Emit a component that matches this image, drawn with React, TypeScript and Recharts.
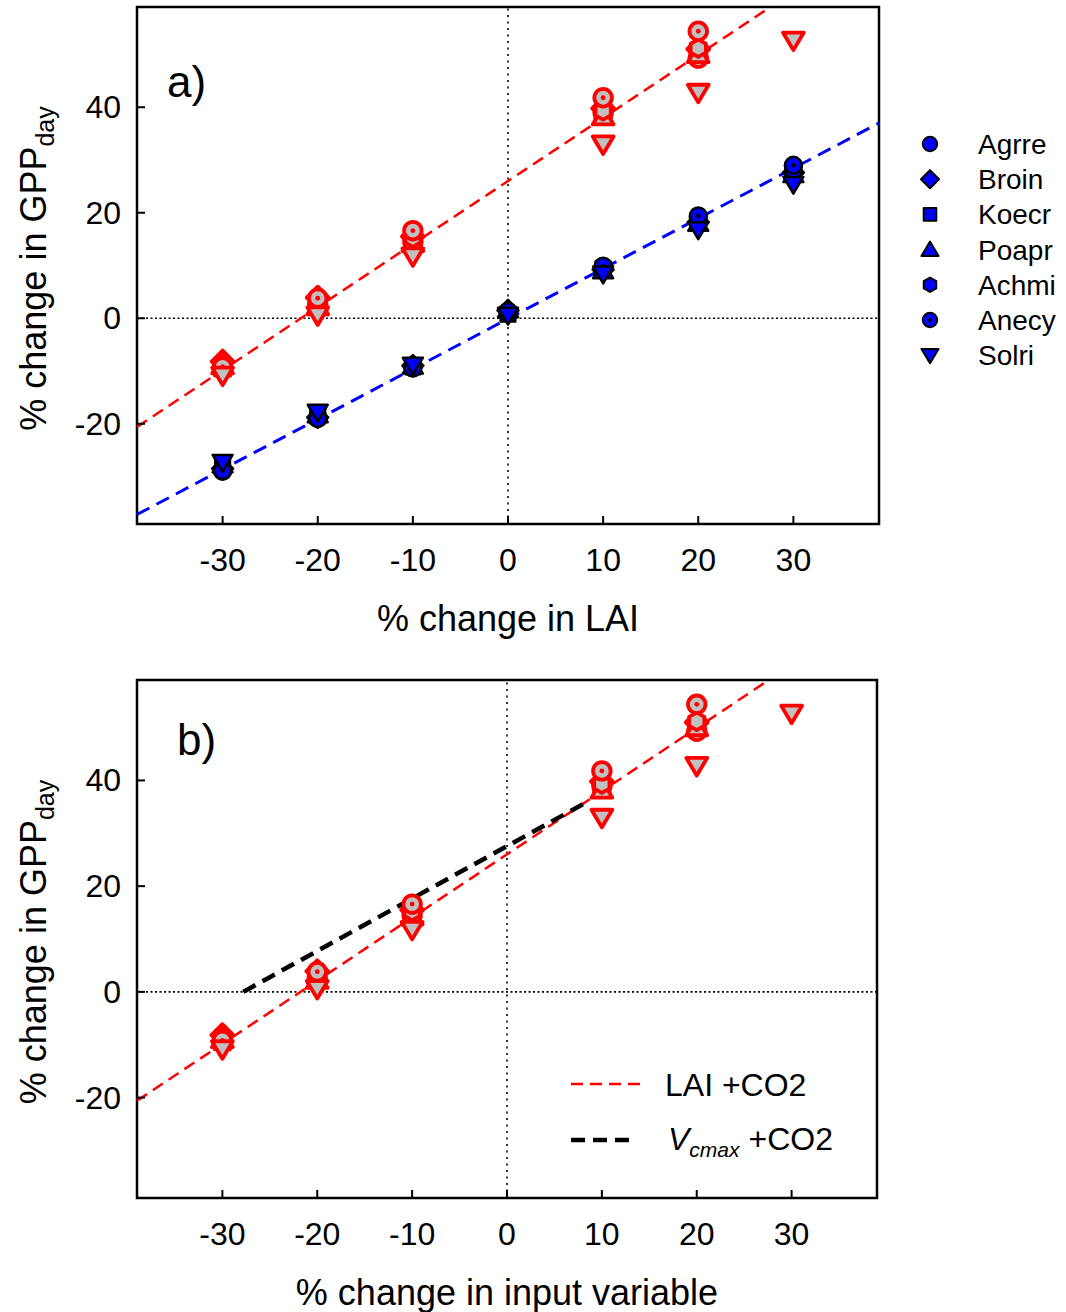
import React from 'react';
import { ScatterChart, Scatter, XAxis, YAxis, ReferenceLine, ReferenceArea } from 'recharts';

const FONT = '"Liberation Sans", Arial, Helvetica, sans-serif';

// x positions of the perturbation levels (% change)
const levels = [-30, -20, -10, 0, 10, 20, 30];

const speciesNames = ['Agrre', 'Broin', 'Koecr', 'Poapr', 'Achmi', 'Anecy', 'Solri'];
const speciesShapes = ['circle', 'diamond', 'square', 'triangleUp', 'hexagon', 'dotCircle', 'triangleDown'];

// % change in GPPday, LAI changed only (blue)
const laiAgrre = [-29.0, -19.0, -9.4, 1.2, 9.8, 19.2, 28.8];
const laiBroin = [-28.5, -18.8, -9.0, 1.5, 9.2, 18.2, 27.6];
const laiKoecr = [-28.2, -18.5, -9.2, 0.8, 9.4, 18.5, 27.8];
const laiPoapr = [-27.8, -18.3, -9.1, 1.6, 9.0, 18.0, 27.2];
const laiAchmi = [-28.6, -18.7, -9.3, 1.0, 9.5, 18.6, 27.9];
const laiAnecy = [-28.9, -19.0, -9.4, 1.3, 9.9, 19.4, 29.0];
const laiSolri = [-27.3, -17.8, -8.9, 0.6, 8.4, 16.8, 25.4];

// % change in GPPday, LAI changed + elevated CO2 (red)
const co2Agrre = [-9.6, 2.6, 14.5, null, 39.0, 49.3, null];
const co2Broin = [-8.2, 3.9, 15.5, null, 39.8, 51.0, null];
const co2Koecr = [-9.4, 2.8, 14.8, null, 38.6, 50.3, null];
const co2Poapr = [-9.0, 2.2, 14.2, null, 38.2, 50.0, null];
const co2Achmi = [-8.6, 3.4, 15.2, null, 39.3, 51.2, null];
const co2Anecy = [-9.2, 3.8, 16.6, null, 41.8, 54.4, null];
const co2Solri = [-10.8, 0.6, 11.8, null, 33.0, 42.8, 52.7];

const laiSeries = [laiAgrre, laiBroin, laiKoecr, laiPoapr, laiAchmi, laiAnecy, laiSolri];
const co2Series = [co2Agrre, co2Broin, co2Koecr, co2Poapr, co2Achmi, co2Anecy, co2Solri];

// fitted lines (end points)
const laiFit = [{ x: -39, y: -37.2 }, { x: 39, y: 37.0 }];
const laiCo2Fit = [{ x: -39, y: -20.6 }, { x: 27.6, y: 59 }];
const vcmaxCo2Fit = [{ x: -27.8, y: 0 }, { x: 8.3, y: 35.8 }];

const xTicks = [-30, -20, -10, 0, 10, 20, 30];
const yTicks = [-20, 0, 20, 40];
const xDomain = [-39, 39];
const yDomain = [-39, 59];

const toPoints = (vals: (number | null)[]) =>
  levels.map((x, i) => ({ x, y: vals[i] })).filter((p) => p.y !== null);

const RED = { stroke: '#ff0000', fill: '#c0c0c0', sw: 3.8, dot: '#ff0000' };
const BLUE = { stroke: '#000000', fill: '#0000ff', sw: 2.5, dot: '#000000' };

const Marker = ({ kind, cx, cy, look, s = 1 }: any) => {
  const common = { fill: look.fill, stroke: look.stroke, strokeWidth: look.sw, strokeLinejoin: 'round' as const };
  switch (kind) {
    case 'circle':
      return <circle cx={cx} cy={cy} r={8 * s} {...common} />;
    case 'diamond':
      return (
        <polygon
          points={`${cx},${cy - 10 * s} ${cx + 10 * s},${cy} ${cx},${cy + 10 * s} ${cx - 10 * s},${cy}`}
          {...common}
        />
      );
    case 'square':
      return <rect x={cx - 7 * s} y={cy - 7 * s} width={14 * s} height={14 * s} {...common} />;
    case 'triangleUp':
      return (
        <polygon points={`${cx},${cy - 9 * s} ${cx + 9.5 * s},${cy + 7 * s} ${cx - 9.5 * s},${cy + 7 * s}`} {...common} />
      );
    case 'triangleDown':
      return (
        <polygon points={`${cx - 9.5 * s},${cy - 7 * s} ${cx + 9.5 * s},${cy - 7 * s} ${cx},${cy + 9 * s}`} {...common} />
      );
    case 'hexagon': {
      const r = 8 * s;
      const pts = [-90, -30, 30, 90, 150, 210]
        .map((a) => `${cx + r * Math.cos((a * Math.PI) / 180)},${cy + r * Math.sin((a * Math.PI) / 180)}`)
        .join(' ');
      return <polygon points={pts} {...common} />;
    }
    case 'dotCircle':
      return (
        <g>
          <circle cx={cx} cy={cy} r={8 * s} {...common} />
          <circle cx={cx} cy={cy} r={2.2 * s} fill={look.dot} />
        </g>
      );
    default:
      return null;
  }
};

const YTick = ({ x, y, payload }: any) => (
  <g>
    <line x1={x} x2={x + 8} y1={y} y2={y} stroke="#000" strokeWidth={2} />
    <text x={x - 16} y={y} dy={11} textAnchor="end" fontSize={32} fontFamily={FONT} fill="#000">
      {payload.value}
    </text>
  </g>
);

const XTick = ({ x, y, payload }: any) => (
  <g>
    <line x1={x} x2={x} y1={y} y2={y - 8} stroke="#000" strokeWidth={2} />
    <text x={x} y={y + 47} textAnchor="middle" fontSize={32} fontFamily={FONT} fill="#000">
      {payload.value}
    </text>
  </g>
);

const XTitle = (text: string) => (props: any) => {
  const vb = props.viewBox;
  return (
    <text x={vb.x + vb.width / 2} y={vb.y + 107} textAnchor="middle" fontSize={36} fontFamily={FONT} fill="#000">
      {text}
    </text>
  );
};

const YTitle = (props: any) => {
  const vb = props.viewBox;
  const cy = vb.y + vb.height / 2 + 3;
  const x = 46;
  return (
    <text
      x={x}
      y={cy}
      transform={`rotate(-90, ${x}, ${cy})`}
      textAnchor="middle"
      fontSize={36}
      fontFamily={FONT}
      fill="#000"
    >
      % change in GPP
      <tspan fontSize={25} dy={8}>
        day
      </tspan>
    </text>
  );
};

type PanelProps = {
  height: number;
  margin: { top: number; right: number; bottom: number; left: number };
  xAxisHeight: number;
  xTitle: string;
  showLai: boolean;
};

const Panel = ({ height, margin, xAxisHeight, xTitle, showLai }: PanelProps) => (
  <ScatterChart width={1066} height={height} margin={margin}>
    <XAxis
      type="number"
      dataKey="x"
      domain={xDomain}
      ticks={xTicks}
      allowDataOverflow
      axisLine={false}
      tickLine={false}
      tickSize={0}
      tickMargin={0}
      height={xAxisHeight}
      tick={<XTick />}
      label={XTitle(xTitle)}
    />
    <YAxis
      type="number"
      dataKey="y"
      domain={yDomain}
      ticks={yTicks}
      allowDataOverflow
      axisLine={false}
      tickLine={false}
      tickSize={0}
      tickMargin={0}
      width={137}
      tick={<YTick />}
      label={YTitle}
    />
    <ReferenceLine x={0} stroke="#000" strokeWidth={1.6} strokeDasharray="2 4.5" />
    <ReferenceLine y={0} stroke="#000" strokeWidth={1.6} strokeDasharray="2 2.5" />
    <ReferenceLine segment={laiCo2Fit} ifOverflow="visible" stroke="#ff0000" strokeWidth={2.5} strokeDasharray="12 7" />
    {showLai && (
      <ReferenceLine segment={laiFit} ifOverflow="visible" stroke="#0000ff" strokeWidth={3} strokeDasharray="14 8" />
    )}
    {!showLai && (
      <ReferenceLine segment={vcmaxCo2Fit} ifOverflow="visible" stroke="#000" strokeWidth={4.5} strokeDasharray="14 8" />
    )}
    {showLai &&
      laiSeries.map((vals, i) => (
        <Scatter
          key={'lai' + i}
          name={speciesNames[i]}
          data={toPoints(vals)}
          isAnimationActive={false}
          shape={(p: any) => <Marker kind={speciesShapes[i]} cx={p.cx} cy={p.cy} look={BLUE} s={1.05} />}
        />
      ))}
    {co2Series.map((vals, i) => (
      <Scatter
        key={'co2' + i}
        name={speciesNames[i] + ' +CO2'}
        data={toPoints(vals)}
        isAnimationActive={false}
        shape={(p: any) => <Marker kind={speciesShapes[i]} cx={p.cx} cy={p.cy} look={RED} s={1.1} />}
      />
    ))}
    <ReferenceArea
      x1={xDomain[0]}
      x2={xDomain[1]}
      y1={yDomain[0]}
      y2={yDomain[1]}
      fill="none"
      fillOpacity={0}
      stroke="#000"
      strokeWidth={2.5}
      ifOverflow="visible"
    />
  </ScatterChart>
);

const Overlay = () => (
  <svg
    width={1066}
    height={1312}
    style={{ position: 'absolute', left: 0, top: 0, pointerEvents: 'none' }}
    fontFamily={FONT}
  >
    <text x={167} y={97} fontSize={44} fill="#000">
      a)
    </text>
    <text x={177} y={755} fontSize={44} fill="#000">
      b)
    </text>
    {speciesNames.map((name, i) => {
      const cy = 144 + i * 35.2;
      return (
        <g key={name}>
          <Marker kind={speciesShapes[i]} cx={930} cy={cy} look={{ ...BLUE, sw: 2 }} s={0.9} />
          <text x={978} y={cy + 10} fontSize={28} fill="#000">
            {name}
          </text>
        </g>
      );
    })}
    <line x1={571} x2={640} y1={1084} y2={1084} stroke="#ff0000" strokeWidth={2.5} strokeDasharray="12 7" />
    <text x={665} y={1096} fontSize={32} fill="#000">
      LAI +CO2
    </text>
    <line x1={571} x2={632} y1={1140} y2={1140} stroke="#000" strokeWidth={4.5} strokeDasharray="14 8" />
    <text x={668} y={1150} fontSize={32} fill="#000">
      <tspan fontStyle="italic">V</tspan>
      <tspan fontStyle="italic" fontSize={21} dy={7}>
        cmax
      </tspan>
      <tspan dy={-7} dx={9}>
        +CO2
      </tspan>
    </text>
  </svg>
);

export default function App() {
  return (
    <div
      style={{
        position: 'absolute',
        left: 0,
        top: 0,
        width: 1066,
        height: 1312,
        background: '#fff',
        fontFamily: FONT,
      }}
    >
      <Panel
        height={650}
        margin={{ top: 7, right: 187, bottom: 0, left: 0 }}
        xAxisHeight={126}
        xTitle="% change in LAI"
        showLai
      />
      <Panel
        height={662}
        margin={{ top: 30, right: 189, bottom: 0, left: 0 }}
        xAxisHeight={114}
        xTitle="% change in input variable"
        showLai={false}
      />
      <Overlay />
    </div>
  );
}
